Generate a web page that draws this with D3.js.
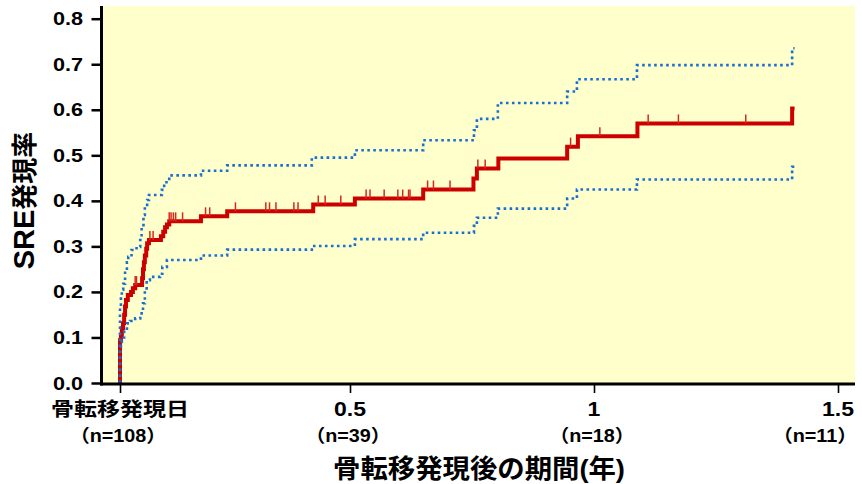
<!DOCTYPE html>
<html>
<head>
<meta charset="utf-8">
<script src="https://cdn.jsdelivr.net/npm/d3@7"></script>
<style>
  body { margin: 0; background: #fff; }
  svg { display: block; }
  text { font-family: "Liberation Sans", Arial, "Noto Sans CJK JP", sans-serif; font-weight: bold; fill: #000; }
</style>
</head>
<body>
<svg id="chart" width="862" height="484"></svg>
<script>
// ---- data (years since bone metastasis, cumulative SRE incidence) ----
const xTicks = [0, 0.5, 1, 1.5];
const xTickLabels = ["骨転移発現日", "0.5", "1", "1.5"];
const atRiskLabels = ["（n=108）", "（n=39）", "（n=18）", "（n=11）"];
const yTicks = [0, 0.1, 0.2, 0.3, 0.4, 0.5, 0.6, 0.7, 0.8];

const sreTimes = [0, 0.002, 0.004, 0.0065, 0.009, 0.011, 0.013, 0.017, 0.024, 0.028, 0.033,
  0.048, 0.050, 0.052, 0.054, 0.057, 0.059, 0.063, 0.089, 0.094, 0.098, 0.102, 0.107,
  0.176, 0.233, 0.420, 0.510, 0.650, 0.753, 0.760, 0.804, 0.945, 0.967, 1.089, 1.406];
const sreRate = [0.094, 0.105, 0.120, 0.131, 0.150, 0.168, 0.182, 0.193, 0.200, 0.208, 0.215,
  0.230, 0.250, 0.265, 0.280, 0.295, 0.307, 0.314, 0.322, 0.332, 0.342, 0.348, 0.355,
  0.366, 0.377, 0.392, 0.405, 0.425, 0.449, 0.471, 0.493, 0.519, 0.542, 0.570, 0.603];

const upperTimes = [0, 0.002, 0.004, 0.007, 0.011, 0.015, 0.018, 0.025, 0.036, 0.044,
  0.047, 0.051, 0.054, 0.059, 0.063, 0.091, 0.096, 0.107, 0.176, 0.233, 0.417, 0.510,
  0.650, 0.754, 0.760, 0.803, 0.945, 0.965, 1.088, 1.406];
const upperCI = [0.165, 0.190, 0.205, 0.218, 0.248, 0.265, 0.277, 0.292, 0.299, 0.314,
  0.343, 0.369, 0.387, 0.402, 0.413, 0.424, 0.441, 0.456, 0.466, 0.478, 0.495, 0.511,
  0.533, 0.555, 0.580, 0.615, 0.640, 0.667, 0.698, 0.735];

const lowerTimes = [0, 0.002, 0.004, 0.009, 0.015, 0.022, 0.033, 0.044, 0.050, 0.054,
  0.058, 0.065, 0.087, 0.092, 0.102, 0.176, 0.233, 0.417, 0.510, 0.650, 0.754, 0.760,
  0.803, 0.945, 0.965, 1.088, 1.406];
const lowerCI = [0.080, 0.090, 0.100, 0.116, 0.131, 0.136, 0.142, 0.153, 0.175, 0.204,
  0.226, 0.233, 0.240, 0.255, 0.270, 0.280, 0.293, 0.301, 0.316, 0.330, 0.345, 0.363,
  0.383, 0.405, 0.425, 0.447, 0.475];

const censorTimes = [0.033, 0.036, 0.065, 0.072, 0.107, 0.111, 0.116, 0.121, 0.136, 0.186,
  0.195, 0.251, 0.317, 0.325, 0.339, 0.378, 0.387, 0.431, 0.446, 0.480, 0.533, 0.541,
  0.570, 0.598, 0.608, 0.620, 0.623, 0.659, 0.671, 0.705, 0.762, 0.777, 0.952, 1.012,
  1.111, 1.173, 1.311];

const followUpEnd = 1.411;

// ---- layout ----
const svg = d3.select("#chart");
const plot = { left: 100, right: 855, top: 6, bottom: 384 };

// the time axis is drawn with its own tick spacing per half-year segment
const x = d3.scaleLinear().domain([0, 0.5, 1, 1.5]).range([120, 350, 594, 838]);
const y = d3.scaleLinear().domain([0, 0.8]).range([383, 18.7]);

svg.append("rect").attr("width", 862).attr("height", 484).attr("fill", "#fff");
svg.append("rect")
  .attr("x", plot.left).attr("y", plot.top)
  .attr("width", plot.right - plot.left).attr("height", plot.bottom - plot.top)
  .attr("fill", "#ffffcc");

// step series helper
function stepPoints(times, values) {
  const pts = [[0, 0]];
  times.forEach((t, i) => pts.push([t, values[i]]));
  pts.push([followUpEnd, values[values.length - 1]]);
  return pts;
}
function valueAt(times, values, t) {
  let v = 0;
  for (let i = 0; i < times.length; i++) if (times[i] <= t) v = values[i];
  return v;
}
const stepLine = d3.line().x(d => x(d[0])).y(d => y(d[1])).curve(d3.curveStepAfter);

// cumulative incidence
svg.append("path")
  .datum(stepPoints(sreTimes, sreRate))
  .attr("d", stepLine)
  .attr("fill", "none")
  .attr("stroke", "#cc0000")
  .attr("stroke-width", 4);

// censoring marks
svg.append("g").selectAll("line")
  .data(censorTimes)
  .join("line")
  .attr("x1", d => x(d)).attr("x2", d => x(d))
  .attr("y1", d => y(valueAt(sreTimes, sreRate, d)))
  .attr("y2", d => y(valueAt(sreTimes, sreRate, d)) - 9)
  .attr("stroke", "#d42a1e")
  .attr("stroke-width", 1.5);

// 95% confidence bounds
[[upperTimes, upperCI], [lowerTimes, lowerCI]].forEach(([t, v]) => {
  svg.append("path")
    .datum(stepPoints(t, v))
    .attr("d", stepLine)
    .attr("fill", "none")
    .attr("stroke", "#1a6fd0")
    .attr("stroke-width", 2.6)
    .attr("stroke-dasharray", "2.6 3.4");
});

// ---- axes ----
const yAxis = svg.append("g")
  .attr("transform", `translate(${plot.left + 1.5},0)`)
  .call(d3.axisLeft(y).tickValues(yTicks).tickSize(10).tickFormat(""));
yAxis.select(".domain").attr("d", `M0,${plot.top}V${plot.bottom + 1.5}`).attr("stroke-width", 3);
yAxis.selectAll(".tick line").attr("stroke-width", 2.5);

const xAxis = svg.append("g")
  .attr("transform", `translate(0,${plot.bottom})`)
  .call(d3.axisBottom(x).tickValues(xTicks).tickSize(9).tickFormat(""));
xAxis.select(".domain").attr("d", `M${plot.left},0H${plot.right}`).attr("stroke-width", 3);
xAxis.selectAll(".tick line").attr("stroke-width", 1.6);

// y tick labels
svg.append("g").selectAll("text")
  .data(yTicks)
  .join("text")
  .attr("transform", d => `translate(83,${y(d) + 6.5}) scale(1.2,1)`)
  .attr("text-anchor", "end")
  .attr("font-size", 18)
  .text(d => d3.format(".1f")(d));

// x tick labels + numbers at risk
svg.append("g").selectAll("text")
  .data(xTicks)
  .join("text")
  .attr("transform", d => `translate(${x(d)},416) scale(1.18,1)`)
  .attr("text-anchor", "middle")
  .attr("font-size", 19.5)
  .text((d, i) => xTickLabels[i]);

svg.append("g").selectAll("text")
  .data(xTicks)
  .join("text")
  .attr("transform", (d, i) => i === xTicks.length - 1
    ? `translate(857,441.5) scale(1.1,1)` : `translate(${x(d) - 2},441.5) scale(1.1,1)`)
  .attr("text-anchor", (d, i) => i === xTicks.length - 1 ? "end" : "middle")
  .attr("font-size", 18)
  .text((d, i) => atRiskLabels[i]);

// axis titles
svg.append("text")
  .attr("x", 333).attr("y", 478)
  .attr("font-size", 26)
  .attr("textLength", 292)
  .attr("lengthAdjust", "spacingAndGlyphs")
  .text("骨転移発現後の期間(年)");

const yTitle = svg.append("text")
  .attr("transform", "translate(33.5,200.5) rotate(-90)")
  .attr("text-anchor", "middle");
yTitle.append("tspan").attr("font-size", 29).text("SRE");
yTitle.append("tspan").attr("font-size", 26).text("発現率");
</script>
</body>
</html>
